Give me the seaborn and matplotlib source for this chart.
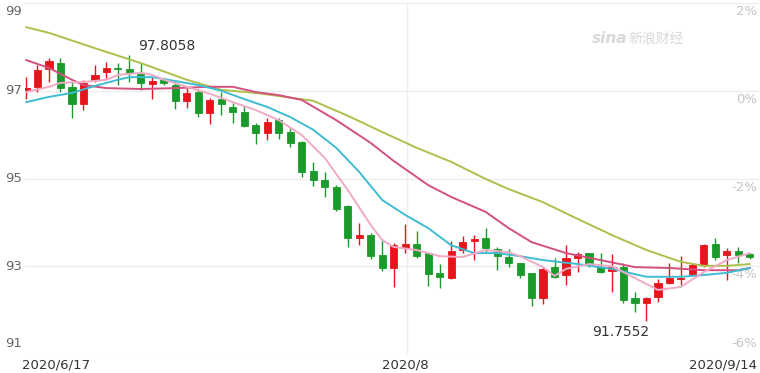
import numpy as np
import pandas as pd
import matplotlib
matplotlib.use("Agg")
import matplotlib.pyplot as plt
import seaborn as sns

# ---- data ----
dates_labels = ["2020/6/17", "2020/8", "2020/9/14"]
date_label_idx = [0, 33, 63]

opens = [97.017, 97.086, 97.496, 97.632, 97.086, 96.698, 97.245, 97.427, 97.518, 97.496,
         97.382, 97.154, 97.245, 97.131, 96.766, 96.972, 96.493, 96.812, 96.630, 96.516,
         96.219, 96.037, 96.333, 96.060, 95.832, 95.171, 94.966, 94.806, 94.373, 93.644,
         93.712, 93.256, 92.960, 93.416, 93.507, 93.302, 92.846, 92.732, 93.370, 93.576,
         93.644, 93.393, 93.211, 93.074, 92.846, 92.276, 92.983, 92.801, 93.188, 93.302,
         92.983, 92.892, 92.983, 92.276, 92.162, 92.299, 92.618, 92.700, 92.823, 93.029,
         93.507, 93.256, 93.348, 93.279]
closes = [97.063, 97.473, 97.678, 97.063, 96.698, 97.177, 97.359, 97.518, 97.496, 97.405,
          97.177, 97.222, 97.177, 96.766, 96.949, 96.493, 96.789, 96.698, 96.516, 96.197,
          96.037, 96.288, 96.037, 95.809, 95.148, 94.966, 94.806, 94.305, 93.644, 93.712,
          93.234, 92.960, 93.484, 93.507, 93.234, 92.823, 92.755, 93.348, 93.553, 93.621,
          93.416, 93.234, 93.074, 92.801, 92.276, 92.937, 92.755, 93.188, 93.279, 93.029,
          92.869, 92.983, 92.231, 92.162, 92.276, 92.618, 92.732, 92.720, 93.029, 93.484,
          93.211, 93.348, 93.256, 93.211]
highs = [97.313, 97.587, 97.746, 97.746, 97.199, 97.245, 97.587, 97.655, 97.632, 97.8058,
         97.632, 97.313, 97.291, 97.199, 97.063, 97.040, 96.835, 96.972, 96.721, 96.652,
         96.265, 96.379, 96.379, 96.174, 95.850, 95.376, 95.148, 94.850, 94.400, 93.986,
         93.758, 93.598, 93.530, 93.970, 93.800, 93.310, 93.051, 93.576, 93.690, 93.712,
         93.870, 93.439, 93.393, 93.074, 92.846, 92.983, 93.188, 93.484, 93.325, 93.310,
         93.302, 93.279, 93.074, 92.413, 92.299, 92.709, 93.074, 93.234, 93.074, 93.507,
         93.644, 93.416, 93.439, 93.302]
lows = [96.812, 96.972, 97.199, 96.972, 96.379, 96.561, 97.199, 97.291, 97.131, 97.199,
        97.017, 96.812, 97.131, 96.584, 96.607, 96.402, 96.242, 96.447, 96.265, 96.174,
        95.780, 95.878, 95.900, 95.718, 95.034, 94.829, 94.578, 94.260, 93.439, 93.484,
        93.165, 92.892, 92.527, 93.302, 93.188, 92.550, 92.504, 92.720, 93.302, 93.142,
        93.325, 92.915, 92.983, 92.732, 92.094, 92.140, 92.732, 92.573, 92.869, 92.983,
        92.846, 92.413, 92.162, 91.957, 91.7552, 92.185, 92.596, 92.573, 92.801, 92.983,
        93.142, 92.687, 93.074, 93.165]

ma5_idx = [0, 2, 3, 5, 7, 8, 10, 11, 12, 14, 16, 18, 20, 22, 24, 26, 28, 30, 31, 32, 34, 36,
           38, 40, 42, 43, 45, 46, 47, 49, 51, 53, 55, 57, 59, 61, 63]
ma5_val = [96.97, 97.09, 97.18, 97.20, 97.25, 97.36, 97.41, 97.36, 97.25, 97.09, 96.93, 96.74,
           96.56, 96.33, 95.99, 95.47, 94.74, 93.94, 93.60, 93.44, 93.37, 93.23, 93.21, 93.37,
           93.32, 93.23, 92.98, 92.78, 92.94, 93.05, 93.00, 92.73, 92.46, 92.53, 92.87, 93.14,
           93.30]
ma10_idx = [0, 2, 4, 6, 8, 9, 11, 13, 15, 17, 19, 21, 23, 25, 27, 29, 31, 33, 35, 37, 39, 41,
            43, 45, 48, 51, 54, 57, 59, 61, 63]
ma10_val = [96.74, 96.86, 96.95, 97.11, 97.25, 97.31, 97.31, 97.22, 97.13, 97.00, 96.81, 96.63,
            96.40, 96.11, 95.70, 95.15, 94.51, 94.17, 93.87, 93.48, 93.30, 93.30, 93.23, 93.14,
            93.05, 92.94, 92.76, 92.76, 92.80, 92.85, 92.96]
ma20_idx = [0, 2, 4, 5, 7, 10, 13, 16, 18, 20, 22, 24, 27, 30, 32, 35, 37, 40, 42, 44, 47, 50,
            53, 56, 59, 62, 63]
ma20_val = [97.70, 97.52, 97.25, 97.13, 97.06, 97.04, 97.06, 97.09, 97.09, 96.97, 96.90, 96.79,
            96.33, 95.81, 95.40, 94.85, 94.58, 94.24, 93.87, 93.55, 93.30, 93.14, 92.98, 92.96,
            92.91, 92.91, 92.96]
ma30_idx = [0, 2, 6, 10, 14, 17, 20, 22, 25, 28, 31, 34, 37, 40, 42, 45, 48, 51, 54, 57, 59,
            61, 63]
ma30_val = [98.45, 98.32, 97.97, 97.63, 97.25, 97.02, 96.95, 96.88, 96.77, 96.43, 96.06, 95.70,
            95.38, 94.99, 94.76, 94.46, 94.08, 93.71, 93.37, 93.10, 93.01, 93.01, 93.05]

left_ticks = [99, 97, 95, 93, 91]
right_ticks = ["2%", "0%", "-2%", "-4%", "-6%"]
max_label = "97.8058"
min_label = "91.7552"

# ---- styling ----
sns.set_theme(style="white")
plt.rcParams['font.family'] = ['DejaVu Sans', 'Noto Sans CJK SC']

UP = "#e8141c"
DOWN = "#1a9a2a"

fig = plt.figure(figsize=(7.6, 3.73), dpi=100)
ax = fig.add_axes([25 / 760, 19 / 373, 735 / 760, 351 / 373])
ax.set_facecolor("white")

n = len(opens)
x = np.arange(n)
ax.set_xlim(-1 / 11.49, (760 - 26) / 11.49)
ax.set_ylim(91, 99)

# grid
for t in left_ticks:
    ax.axhline(t, color="#eeeeee", lw=1, zorder=0)
ax.axvline(date_label_idx[1] + 0.15, color="#eeeeee", lw=1, zorder=0)

# candles
df = pd.DataFrame({"x": x, "o": opens, "c": closes, "h": highs, "l": lows})
df["up"] = df["c"] >= df["o"]
df["bot"] = df[["o", "c"]].min(axis=1)
df["ht"] = (df["c"] - df["o"]).abs().clip(lower=0.03)
colors = np.where(df["up"], UP, DOWN)
ax.vlines(df["x"], df["l"], df["h"], colors=colors, lw=1.0, zorder=3)
ax.bar(df["x"], df["ht"], bottom=df["bot"], width=0.62, color=colors, edgecolor=colors,
       lw=0.6, zorder=4)

# moving averages
for idx, val, col in [(ma30_idx, ma30_val, "#aebf4a"),
                      (ma20_idx, ma20_val, "#d4507e"),
                      (ma10_idx, ma10_val, "#3ebcd2"),
                      (ma5_idx, ma5_val, "#f0aac6")]:
    sns.lineplot(x=idx, y=val, color=col, lw=1.4, ax=ax, zorder=5)

# axis labels as text
ax.set_xticks([])
ax.set_yticks([])
for s in ax.spines.values():
    s.set_visible(False)

ytr = ax.get_yaxis_transform()
for i, t in enumerate(left_ticks):
    va = "center"
    dy = 0
    if i == 0:
        va, dy = "top", -0.05
    elif i == len(left_ticks) - 1:
        va, dy = "bottom", 0.1
    ax.text(-0.004, t + dy, str(t), transform=ytr, ha="right", va=va,
            fontsize=9.5, color="#666666")
for i, (t, lab) in enumerate(zip(left_ticks, right_ticks)):
    if i == len(left_ticks) - 1:
        ax.text(0.996, t + 0.1, lab, transform=ytr, ha="right", va="bottom",
                fontsize=9.5, color="#c4c4c4")
    else:
        ax.text(0.996, t - 0.05, lab, transform=ytr, ha="right", va="top",
                fontsize=9.5, color="#c4c4c4")

xtr = ax.get_xaxis_transform()
ylab = -11 / 351
ax.text(date_label_idx[0] - 0.35, ylab, dates_labels[0], transform=xtr, ha="left",
        va="center", fontsize=9.5, color="#333333")
ax.text(date_label_idx[1], ylab, dates_labels[1], transform=xtr, ha="center", va="center",
        fontsize=9.5, color="#333333")
ax.text(0.996, ylab, dates_labels[2], transform=ax.transAxes, ha="right", va="center",
        fontsize=9.5, color="#333333")

# max / min annotations
imax = int(np.argmax(highs))
imin = int(np.argmin(lows))
ax.annotate(max_label, (imax, highs[imax]), xytext=(6, 1.5), textcoords="offset points",
            ha="left", va="bottom", fontsize=10, color="#333333")
ax.annotate(min_label, (imin, lows[imin]), xytext=(2, -3), textcoords="offset points",
            ha="right", va="top", fontsize=10, color="#333333")

# watermark
ax.text(0.771, 0.90, "sina", transform=ax.transAxes, ha="left", va="center",
        fontsize=11, color="#d8d8d8", style="italic", fontweight="bold")
ax.text(0.821, 0.90, "新浪财经", transform=ax.transAxes, ha="left", va="center",
        fontsize=10, color="#d8d8d8", family=["Noto Sans CJK SC", "DejaVu Sans"])

fig.savefig("out.png", dpi=100)
